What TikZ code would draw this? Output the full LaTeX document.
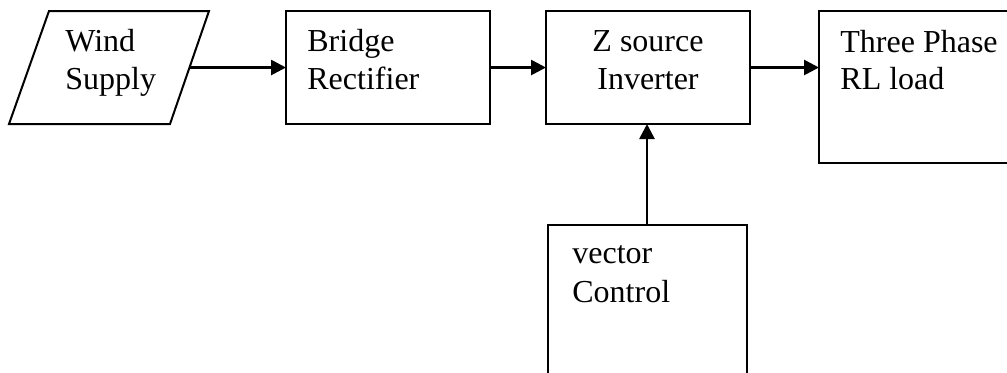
\documentclass[tikz,border=0pt]{standalone}
\usepackage{fontspec}
\setmainfont{Liberation Serif}
\usetikzlibrary{arrows.meta}

\tikzset{
  blockbox/.style={draw, line width=1pt, rectangle, inner sep=0pt, outer sep=0pt},
  outline/.style={draw, line width=1pt, line join=miter},
  label/.style={inner sep=0pt, font=\fontsize{16}{18.5}\selectfont},
  flow/.style={line width=1.35pt, -{Triangle[length=7.5pt,width=7.5pt]}}
}

\begin{document}
\begin{tikzpicture}[x=0.5pt, y=-0.5pt]
  \useasboundingbox (0,0) rectangle (1007,372);

  % input parallelogram
  \coordinate (windNW) at (49,11);
  \coordinate (windNE) at (209,11);
  \coordinate (windSE) at (170,124);
  \coordinate (windSW) at (9,124);
  \draw[outline] (windNW) -- (windNE) -- (windSE) -- (windSW) -- cycle;
  \coordinate (windout) at (189.5,67.5);

  % blocks
  \node[blockbox, minimum width=102pt, minimum height=56.5pt] (bridge) at (388,67.5) {};
  \node[blockbox, minimum width=102pt, minimum height=56.5pt] (zsi) at (648,67.5) {};
  \node[blockbox, minimum width=96.5pt, minimum height=76pt] (load) at (915.5,87) {};
  \node[blockbox, minimum width=99.5pt, minimum height=80pt] (vec) at (647,305) {};

  % labels
  \node[label, anchor=base west] (windtxt1) at (65,51) {Wind};
  \node[label, anchor=base west] (windtxt2) at (65,89) {Supply};
  \node[label, anchor=base west] (bridgetxt1) at (307,51) {Bridge};
  \node[label, anchor=base west] (bridgetxt2) at (307,89) {Rectifier};
  \node[label, anchor=base] (zsitxt1) at (648,51) {Z source};
  \node[label, anchor=base] (zsitxt2) at (648,89) {Inverter};
  \node[label, anchor=base west] (loadtxt1) at (840,52) {Three Phase};
  \node[label, anchor=base west] (loadtxt2) at (840,89) {RL load};
  \node[label, anchor=base west] (vectxt1) at (572,263) {vector};
  \node[label, anchor=base west] (vectxt2) at (572,302) {Control};

  % connections
  \draw[flow] (windout) -- (bridge);
  \draw[flow] (bridge) -- (zsi);
  \draw[flow] (zsi.east) -- (zsi.east -| load.west);
  \draw[flow] (vec.north) -- (vec.north |- zsi.south);
\end{tikzpicture}
\end{document}
